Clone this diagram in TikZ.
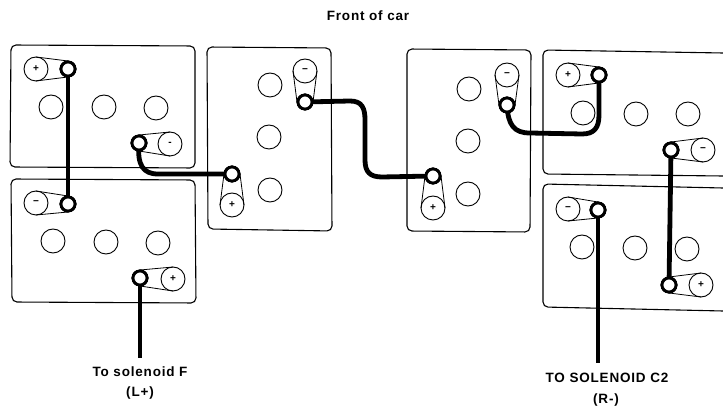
\documentclass[tikz,border=0pt]{standalone}
\usepackage{fontspec}
\setmainfont{Liberation Sans}
\newfontfamily\capfont[LetterSpace=6]{Liberation Sans}
\usetikzlibrary{calc}
\tikzset{
  x=1pt,y=-1pt,
  batt/.style={draw,line width=1.1pt,rounded corners=5pt},
  cellc/.style={circle,draw,line width=0.9pt,minimum size=24pt,inner sep=0pt},
  termc/.style={circle,draw,fill=white,line width=0.9pt,minimum size=24pt,inner sep=0pt,font=\bfseries\fontsize{10}{10}\selectfont},
  postc/.style={circle,draw,fill=white,line width=2.8pt,minimum size=14pt,inner sep=0pt},
  strap/.style={line width=0.8pt},
  wire/.style={line width=4.8pt,line join=round},
  captext/.style={font=\capfont\bfseries\fontsize{13.5}{15}\selectfont,inner sep=0pt},
}
\newcommand{\lugh}[6]{%
  \node[termc] (#1t) at (#2,#4) {#6};
  \draw[strap] ($(#2,#4)+(0,-12)$) -- ($(#3,#5)+(0,-8)$) ($(#2,#4)+(0,12)$) -- ($(#3,#5)+(0,8)$);
  \draw[strap] (#3,#5) circle[radius=8];
  \node[postc] (#1) at (#3,#5) {};}
\newcommand{\lugv}[6]{%
  \node[termc] (#1t) at (#2,#4) {#6};
  \draw[strap] ($(#2,#4)+(-12,0)$) -- ($(#3,#5)+(-8,0)$) ($(#2,#4)+(12,0)$) -- ($(#3,#5)+(8,0)$);
  \draw[strap] (#3,#5) circle[radius=8];
  \node[postc] (#1) at (#3,#5) {};}
\begin{document}
\begin{tikzpicture}
\useasboundingbox (0,0) rectangle (723,411);
% cases
\draw[batt] (11,45) -- (195,46) -- (195,168) -- (10,167) -- cycle;
\draw[batt] (11,179) -- (195,180) -- (196,303) -- (12,302) -- cycle;
\draw[batt] (207,47) -- (331,48) -- (332,231) -- (208,229) -- cycle;
\draw[batt] (407,49) -- (531,50) -- (530,232) -- (407,231) -- cycle;
\draw[batt] (723,53) -- (543,50) -- (543,174) -- (723,176);
\draw[batt] (723,188) -- (543,184) -- (543,307) -- (723,311);
% cells
\foreach \n/\p/\q in {a1/51/107,a2/104/107,a3/156/108,b1/53/241,b2/106/242,b3/158/243,
  c1/270/85,c2/269/137,c3/270/190,d1/469/89,d2/468/141,d3/468/194,
  e1/583/113,e2/636/114,e3/688/114,f1/582/247,f2/635/248,f3/687/249}
  \node[cellc] (\n) at (\p,\q) {};
% terminals and straps
\lugh{ap}{36}{68}{69}{69}{+}
\lugh{aq}{170}{139}{144}{143}{-}
\lugh{bp}{36}{68}{203}{204}{−}
\lugh{bq}{173}{140}{279}{278}{+}
\lugv{cp}{305}{305}{71}{102}{−}
\lugv{cq}{232}{232}{205}{174}{+}
\lugv{dp}{507}{507}{75}{105}{−}
\lugv{dq}{433}{433}{208}{176}{+}
\lugh{ep}{568}{599}{75}{75}{+}
\lugh{eq}{703}{671}{150}{150}{−}
\lugh{fp}{568}{598}{209}{210}{−}
\lugh{fq}{701}{669}{285}{285}{+}
% labels and wire ends
\node[captext] (front) at (368,16) {Front of car};
\node[captext] (solf) at (140,372) {To solenoid F};
\node[captext] (lplus) at (140,393) {(L+)};
\node[captext] (solc) at (607,378) {TO SOLENOID C2};
\node[captext] (rminus) at (606,400) {(R-)};
\coordinate (fend) at (140,358);
\coordinate (c2end) at (598,363);
% wires
\draw[wire] (ap.center) -- (bp.center);
\draw[wire] (aq.center) .. controls (137,165) and (143,174) .. (158,174) -- (cq.center);
\draw[wire] (cp.center) -- (350,101) .. controls (362,101) and (365,108) .. (365,120) -- (365,160) .. controls (365,172) and (370,177) .. (382,177) -- (dq.center);
\draw[wire] (dp.center) .. controls (508,125) and (514,133) .. (530,133) -- (582,134) .. controls (594,134) and (599,128) .. (599,115) -- (ep.center);
\draw[wire] (eq.center) -- (fq.center);
\draw[wire] (fp.center) -- (c2end);
\draw[wire] (bq.center) -- (fend);
% posts above wires
\foreach \n in {ap,aq,bp,bq,cp,cq,dp,dq,ep,eq,fp,fq}
  \node[postc] at (\n) {};
\end{tikzpicture}
\end{document}
